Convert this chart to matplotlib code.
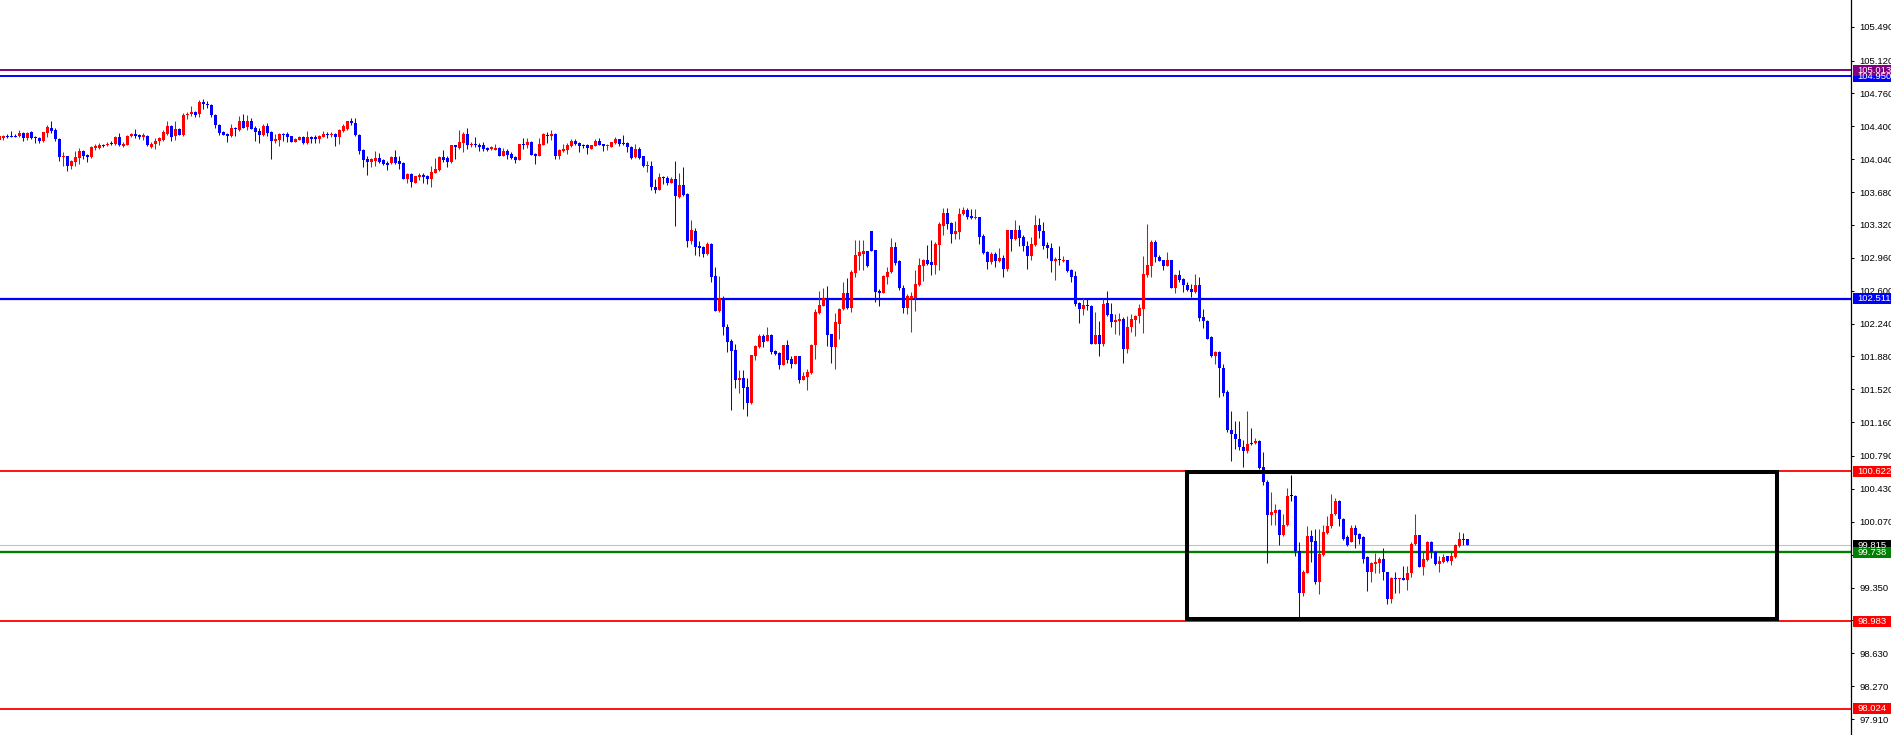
import matplotlib
matplotlib.use("Agg")
import matplotlib.pyplot as plt
from matplotlib.patches import Rectangle
from matplotlib.transforms import blended_transform_factory
import numpy as np

plt.rcParams['font.family'] = ['Liberation Sans', 'DejaVu Sans']

# OHLC candles, oldest first
opens = [
    104.25, 104.27, 104.29, 104.29, 104.29, 104.29, 104.33, 104.27, 104.34, 104.28,
    104.27, 104.24, 104.33, 104.38, 104.36, 104.26, 104.06, 104.07, 103.97, 104.01,
    104.05, 104.13, 104.09, 104.06, 104.16, 104.16, 104.20, 104.19, 104.22, 104.21,
    104.28, 104.18, 104.20, 104.29, 104.32, 104.30, 104.28, 104.29, 104.17, 104.21,
    104.24, 104.25, 104.32, 104.40, 104.29, 104.37, 104.30, 104.52, 104.53, 104.56,
    104.53, 104.67, 104.64, 104.63, 104.52, 104.41, 104.34, 104.32, 104.29, 104.38,
    104.36, 104.46,
    104.39, 104.46, 104.38, 104.35, 104.31, 104.40, 104.34, 104.24, 104.25, 104.32,
    104.32, 104.29, 104.23, 104.25, 104.28, 104.22, 104.28, 104.28, 104.26, 104.28,
    104.32, 104.30, 104.32, 104.28, 104.35, 104.37, 104.46, 104.44, 104.31, 104.14,
    104.04, 104.01, 104.02, 104.05, 104.03, 104.00, 104.00, 104.06, 104.02, 104.00,
    103.82, 103.88, 103.78, 103.84, 103.87, 103.86, 103.82, 103.89, 103.92, 104.06,
    104.05, 104.01, 104.19, 104.16, 104.22, 104.32, 104.19, 104.21, 104.20, 104.19,
    104.16,
    104.15, 104.14, 104.16, 104.07, 104.13, 104.10, 104.06, 104.03, 104.21, 104.20,
    104.23, 104.10, 104.07, 104.20, 104.30, 104.29, 104.32, 104.07, 104.13, 104.14,
    104.18, 104.24, 104.22, 104.20, 104.20, 104.15, 104.18, 104.24, 104.21, 104.18,
    104.17, 104.22, 104.26, 104.22, 104.22, 104.17, 104.06, 104.15, 104.07, 103.96,
    103.97, 103.74, 103.70, 103.85, 103.83, 103.78, 103.82, 103.63, 103.76, 103.66,
    103.14, 103.25, 103.09, 103.08, 103.00, 103.11, 102.76, 102.38, 102.52, 102.20,
    102.05,
    101.95, 101.62, 101.64, 101.55, 101.37, 101.89, 101.98, 102.10, 102.05, 102.11,
    101.94, 101.92, 101.79, 102.00, 101.85, 101.80, 101.88, 101.62, 101.66, 101.70,
    102.00, 102.36, 102.43, 102.52, 102.13, 101.98, 102.24, 102.40, 102.58, 102.41,
    102.79, 102.98, 103.00, 103.03, 103.25, 103.05, 102.60, 102.58, 102.75, 102.80,
    103.08, 102.93, 102.63, 102.41, 102.51, 102.52, 102.66, 102.87, 102.94, 102.91,
    102.88, 103.10, 103.31, 103.45, 103.34, 103.22, 103.24, 103.44, 103.48, 103.42,
    103.40, 103.41,
    103.20, 103.02, 102.91, 103.00, 102.92, 102.96, 102.84, 103.26, 103.17, 103.26,
    103.19, 103.09, 102.98, 103.10, 103.32, 103.25, 103.10, 103.07, 102.93, 102.95,
    102.92, 102.94, 102.83, 102.76, 102.47, 102.40, 102.44, 102.43, 102.02, 102.12,
    102.02, 102.46, 102.35, 102.26, 102.27, 102.29, 101.96, 102.20, 102.28, 102.32,
    102.40, 102.77, 102.87, 103.13, 102.97, 102.94, 102.87, 102.94, 102.63, 102.77,
    102.73, 102.66, 102.62, 102.59, 102.66, 102.31, 102.27, 102.09, 101.88, 101.93,
    101.75,
    101.49, 101.07, 101.03, 100.98, 100.89, 100.85, 100.93, 100.93, 100.95, 100.67,
    100.51, 100.14, 100.17, 100.20, 99.92, 100.03, 100.35, 100.35, 99.75, 99.29,
    99.51, 99.91, 99.86, 99.41, 99.71, 99.95, 100.02, 100.16, 100.30, 100.10,
    99.90, 99.85, 100.00, 99.94, 99.90, 99.68, 99.52, 99.61, 99.62, 99.66,
    99.52, 99.22, 99.45, 99.44, 99.45, 99.43, 99.51, 99.83, 99.92, 99.58,
    99.65, 99.85, 99.74, 99.61, 99.63, 99.69, 99.64, 99.68, 99.80, 99.88,
    99.88,
]
highs = [
    104.30, 104.31, 104.32, 104.35, 104.32, 104.36, 104.34, 104.34, 104.35, 104.29,
    104.28, 104.34, 104.41, 104.46, 104.38, 104.27, 104.12, 104.08, 104.03, 104.13,
    104.16, 104.14, 104.10, 104.18, 104.21, 104.22, 104.21, 104.23, 104.24, 104.29,
    104.33, 104.23, 104.30, 104.33, 104.37, 104.32, 104.33, 104.30, 104.23, 104.27,
    104.28, 104.36, 104.46, 104.41, 104.46, 104.38, 104.55, 104.56, 104.62, 104.57,
    104.69, 104.70, 104.68, 104.64, 104.53, 104.42, 104.35, 104.33, 104.42, 104.39,
    104.51, 104.53,
    104.52, 104.49, 104.40, 104.38, 104.42, 104.44, 104.35, 104.32, 104.33, 104.33,
    104.34, 104.29, 104.27, 104.29, 104.29, 104.35, 104.29, 104.31, 104.30, 104.35,
    104.34, 104.34, 104.33, 104.37, 104.43, 104.46, 104.49, 104.49, 104.32, 104.15,
    104.08, 104.05, 104.13, 104.11, 104.04, 104.02, 104.08, 104.14, 104.07, 104.01,
    103.89, 103.89, 103.86, 103.89, 103.89, 103.87, 103.96, 104.05, 104.07, 104.14,
    104.07, 104.20, 104.19, 104.36, 104.34, 104.38, 104.23, 104.28, 104.22, 104.23,
    104.17,
    104.18, 104.21, 104.17, 104.16, 104.15, 104.12, 104.07, 104.21, 104.27, 104.27,
    104.24, 104.11, 104.27, 104.33, 104.34, 104.36, 104.33, 104.15, 104.21, 104.22,
    104.26, 104.26, 104.23, 104.21, 104.21, 104.20, 104.26, 104.27, 104.21, 104.21,
    104.23, 104.28, 104.26, 104.30, 104.23, 104.18, 104.21, 104.17, 104.08, 104.02,
    104.02, 103.82, 103.89, 103.86, 103.86, 103.85, 104.02, 103.89, 103.95, 103.67,
    103.37, 103.29, 103.14, 103.09, 103.13, 103.12, 102.86, 102.76, 102.54, 102.24,
    102.07,
    102.02, 101.73, 101.73, 101.64, 101.90, 102.00, 102.13, 102.13, 102.20, 102.13,
    101.95, 101.93, 102.01, 102.06, 101.88, 101.89, 101.89, 101.71, 101.74, 102.02,
    102.40, 102.60, 102.63, 102.65, 102.13, 102.36, 102.41, 102.69, 102.74, 102.83,
    103.16, 103.16, 103.16, 103.03, 103.25, 103.05, 102.62, 102.77, 102.86, 103.18,
    103.13, 102.94, 102.66, 102.56, 102.59, 102.83, 102.96, 102.95, 103.10, 103.16,
    103.13, 103.35, 103.50, 103.50, 103.35, 103.36, 103.50, 103.52, 103.50, 103.49,
    103.49, 103.41,
    103.22, 103.03, 103.02, 103.02, 103.07, 102.99, 103.26, 103.27, 103.37, 103.32,
    103.21, 103.14, 103.19, 103.43, 103.40, 103.35, 103.13, 103.12, 102.97, 103.09,
    102.98, 102.94, 102.84, 102.82, 102.48, 102.52, 102.52, 102.44, 102.37, 102.27,
    102.51, 102.60, 102.47, 102.35, 102.36, 102.31, 102.32, 102.34, 102.33, 102.45,
    102.98, 103.33, 103.15, 103.16, 102.99, 102.94, 103.02, 102.94, 102.78, 102.83,
    102.74, 102.69, 102.67, 102.78, 102.75, 102.40, 102.28, 102.10, 101.94, 101.94,
    101.80,
    101.51, 101.28, 101.17, 101.17, 100.97, 101.28, 101.10, 100.99, 100.97, 100.83,
    100.53, 100.40, 100.26, 100.21, 100.16, 100.44, 100.58, 100.36, 99.85, 99.54,
    100.02, 99.98, 99.99, 99.99, 100.03, 100.13, 100.37, 100.33, 100.31, 100.11,
    99.92, 100.03, 100.03, 99.95, 99.91, 99.69, 99.63, 99.73, 99.68, 99.78,
    99.52, 99.47, 99.52, 99.45, 99.59, 99.59, 99.85, 100.16, 99.93, 99.74,
    99.86, 99.86, 99.75, 99.70, 99.72, 99.70, 99.74, 99.83, 99.96, 99.95,
    99.88,
]
lows = [
    104.24, 104.25, 104.27, 104.28, 104.28, 104.28, 104.24, 104.25, 104.26, 104.22,
    104.22, 104.23, 104.28, 104.33, 104.24, 104.02, 103.97, 103.91, 103.93, 103.96,
    103.99, 104.04, 104.01, 104.05, 104.14, 104.15, 104.17, 104.18, 104.20, 104.20,
    104.18, 104.17, 104.19, 104.28, 104.27, 104.26, 104.25, 104.18, 104.16, 104.15,
    104.20, 104.24, 104.30, 104.24, 104.25, 104.30, 104.29, 104.48, 104.51, 104.50,
    104.50, 104.59, 104.60, 104.50, 104.38, 104.31, 104.30, 104.23, 104.28, 104.29,
    104.35, 104.38,
    104.36, 104.37, 104.24, 104.22, 104.29, 104.29, 104.04, 104.22, 104.18, 104.24,
    104.23, 104.23, 104.23, 104.25, 104.21, 104.21, 104.22, 104.22, 104.22, 104.28,
    104.27, 104.28, 104.18, 104.21, 104.34, 104.36, 104.41, 104.29, 104.10, 103.95,
    103.87, 103.95, 103.97, 104.00, 103.98, 103.92, 103.99, 103.99, 103.93, 103.82,
    103.78, 103.74, 103.78, 103.81, 103.78, 103.77, 103.73, 103.89, 103.91, 104.01,
    103.95, 104.00, 104.04, 104.15, 104.12, 104.15, 104.17, 104.17, 104.13, 104.13,
    104.13,
    104.14, 104.14, 104.07, 104.07, 104.04, 104.04, 104.00, 104.03, 104.15, 104.16,
    104.09, 103.99, 104.07, 104.20, 104.22, 104.25, 104.04, 104.04, 104.12, 104.10,
    104.17, 104.20, 104.12, 104.16, 104.10, 104.15, 104.18, 104.20, 104.13, 104.14,
    104.17, 104.21, 104.18, 104.20, 104.12, 104.04, 104.05, 104.04, 103.95, 103.90,
    103.70, 103.67, 103.70, 103.77, 103.76, 103.78, 103.31, 103.61, 103.64, 103.08,
    103.11, 102.99, 102.98, 102.97, 102.99, 102.70, 102.38, 102.37, 102.11, 101.93,
    101.29,
    101.54, 101.48, 101.30, 101.23, 101.36, 101.84, 101.97, 101.98, 102.05, 101.91,
    101.90, 101.74, 101.79, 101.81, 101.75, 101.80, 101.59, 101.62, 101.51, 101.69,
    101.85, 102.35, 102.43, 101.99, 101.81, 101.74, 102.07, 102.39, 102.40, 102.37,
    102.75, 102.83, 102.83, 102.86, 103.03, 102.48, 102.43, 102.57, 102.67, 102.79,
    102.88, 102.61, 102.36, 102.35, 102.15, 102.38, 102.65, 102.71, 102.88, 102.77,
    102.78, 102.83, 103.21, 103.28, 103.12, 103.17, 103.17, 103.43, 103.39, 103.38,
    103.38, 103.11,
    103.00, 102.84, 102.89, 102.86, 102.91, 102.75, 102.82, 103.04, 103.16, 103.09,
    103.04, 102.84, 102.94, 103.09, 103.18, 103.06, 102.96, 102.81, 102.72, 102.88,
    102.91, 102.80, 102.69, 102.43, 102.25, 102.33, 102.39, 102.02, 102.02, 101.88,
    101.99, 102.32, 102.20, 102.13, 102.11, 101.81, 101.92, 102.15, 102.10, 102.25,
    102.14, 102.75, 102.75, 102.91, 102.92, 102.83, 102.87, 102.63, 102.58, 102.70,
    102.59, 102.60, 102.53, 102.58, 102.27, 102.19, 102.07, 101.87, 101.80, 101.44,
    101.45,
    101.05, 100.73, 100.87, 100.86, 100.67, 100.82, 100.91, 100.92, 100.65, 100.47,
    99.62, 100.03, 100.03, 99.82, 99.91, 100.02, 100.30, 99.70, 99.02, 99.26,
    99.51, 99.63, 99.39, 99.28, 99.69, 99.94, 100.00, 100.14, 100.02, 99.87,
    99.80, 99.85, 99.78, 99.83, 99.62, 99.31, 99.41, 99.51, 99.51, 99.43,
    99.17, 99.18, 99.29, 99.29, 99.43, 99.32, 99.46, 99.82, 99.58, 99.49,
    99.64, 99.67, 99.60, 99.52, 99.62, 99.63, 99.60, 99.67, 99.79, 99.81,
    99.81,
]
closes = [
    104.29, 104.29, 104.28, 104.28, 104.28, 104.33, 104.27, 104.33, 104.27, 104.27,
    104.24, 104.34, 104.39, 104.35, 104.26, 104.06, 104.07, 103.97, 104.02, 104.06,
    104.13, 104.08, 104.06, 104.17, 104.18, 104.20, 104.18, 104.21, 104.21, 104.28,
    104.19, 104.21, 104.29, 104.32, 104.29, 104.28, 104.30, 104.20, 104.21, 104.24,
    104.27, 104.34, 104.40, 104.28, 104.37, 104.30, 104.52, 104.53, 104.56, 104.52,
    104.67, 104.64, 104.63, 104.52, 104.41, 104.33, 104.30, 104.29, 104.38, 104.37,
    104.46, 104.38,
    104.46, 104.37, 104.34, 104.31, 104.40, 104.33, 104.24, 104.26, 104.32, 104.31,
    104.28, 104.23, 104.26, 104.28, 104.22, 104.28, 104.26, 104.26, 104.29, 104.32,
    104.30, 104.32, 104.28, 104.36, 104.40, 104.46, 104.44, 104.30, 104.13, 104.03,
    104.01, 104.04, 104.05, 104.01, 103.99, 103.98, 104.06, 104.00, 103.99, 103.82,
    103.88, 103.79, 103.86, 103.87, 103.84, 103.82, 103.90, 103.93, 104.06, 104.03,
    104.01, 104.19, 104.17, 104.23, 104.32, 104.19, 104.21, 104.19, 104.17, 104.15,
    104.14,
    104.17, 104.16, 104.07, 104.13, 104.09, 104.05, 104.03, 104.21, 104.20, 104.23,
    104.09, 104.07, 104.21, 104.32, 104.29, 104.32, 104.07, 104.14, 104.15, 104.20,
    104.24, 104.21, 104.18, 104.18, 104.16, 104.20, 104.24, 104.20, 104.18, 104.20,
    104.23, 104.26, 104.21, 104.21, 104.17, 104.05, 104.15, 104.05, 103.96, 103.97,
    103.73, 103.70, 103.84, 103.83, 103.78, 103.82, 103.64, 103.76, 103.65, 103.14,
    103.26, 103.08, 103.07, 103.00, 103.11, 102.75, 102.38, 102.52, 102.20, 102.04,
    101.94,
    101.62, 101.64, 101.54, 101.37, 101.90, 101.99, 102.10, 102.04, 102.11, 101.93,
    101.91, 101.79, 102.00, 101.84, 101.80, 101.88, 101.62, 101.67, 101.71, 102.01,
    102.37, 102.44, 102.52, 102.12, 101.98, 102.26, 102.40, 102.58, 102.41, 102.81,
    102.99, 103.02, 103.03, 102.87, 103.04, 102.59, 102.58, 102.76, 102.81, 103.08,
    102.90, 102.63, 102.41, 102.54, 102.54, 102.67, 102.88, 102.94, 102.89, 102.88,
    103.11, 103.33, 103.45, 103.33, 103.22, 103.25, 103.44, 103.48, 103.41, 103.40,
    103.41, 103.19,
    103.01, 102.91, 103.00, 102.92, 102.96, 102.84, 103.26, 103.17, 103.26, 103.18,
    103.09, 102.98, 103.11, 103.32, 103.25, 103.09, 103.07, 102.93, 102.95, 102.94,
    102.94, 102.82, 102.75, 102.45, 102.40, 102.44, 102.43, 102.02, 102.12, 102.02,
    102.45, 102.33, 102.26, 102.28, 102.29, 101.96, 102.20, 102.29, 102.32, 102.41,
    102.78, 102.88, 103.13, 102.97, 102.93, 102.87, 102.94, 102.63, 102.77, 102.72,
    102.66, 102.61, 102.59, 102.66, 102.30, 102.27, 102.07, 101.88, 101.93, 101.75,
    101.48,
    101.07, 101.03, 100.98, 100.89, 100.85, 100.92, 100.92, 100.95, 100.66, 100.50,
    100.14, 100.18, 100.20, 99.92, 100.03, 100.35, 100.35, 99.75, 99.29, 99.52,
    99.91, 99.85, 99.41, 99.72, 99.96, 100.02, 100.16, 100.30, 100.10, 99.88,
    99.82, 100.00, 99.92, 99.88, 99.66, 99.52, 99.62, 99.63, 99.66, 99.52,
    99.22, 99.45, 99.44, 99.45, 99.43, 99.51, 99.83, 99.92, 99.58, 99.66,
    99.85, 99.74, 99.61, 99.64, 99.68, 99.64, 99.69, 99.81, 99.88, 99.87,
    99.81,
]

# horizontal levels, in drawing order (later ones cover earlier labels)
level_prices = [104.950, 105.013, 102.511, 100.622, 99.815, 99.738, 98.983, 98.024]
level_colors = ['#0000ff', '#800080', '#0000ff', '#ff0000', '#c0c0c0', '#008000', '#ff0000', '#ff0000']
label_colors = ['#0000ff', '#800080', '#0000ff', '#ff0000', '#000000', '#008000', '#ff0000', '#ff0000']
level_widths = [1.4, 1.4, 1.6, 1.3, 0.75, 1.7, 1.3, 1.3]

tick_prices = [105.49, 105.12, 104.76, 104.40, 104.04, 103.68, 103.32, 102.96, 102.60,
               102.24, 101.88, 101.52, 101.16, 100.79, 100.43, 100.07, 99.71, 99.35,
               98.99, 98.63, 98.27, 97.91]

box_x = [296.9, 444.3]
box_y = [99.005, 100.61]

W, H = 1891, 735
fig = plt.figure(figsize=(W / 100, H / 100), dpi=100)
ax = fig.add_axes([0, 0, 1851 / W, 1])

o = np.array(opens)
h = np.array(highs)
l = np.array(lows)
c = np.array(closes)
assert len(o) == len(h) == len(l) == len(c)
x = np.arange(len(o))

cols = np.where(c > o, '#ff0000', np.where(c < o, '#0000ff', '#000000'))
ax.vlines(x, l, h, colors=cols, linewidth=0.75, zorder=3)
body = np.maximum(np.abs(c - o), 0.011)
ax.bar(x, body, bottom=np.minimum(o, c), width=0.75, color=cols, linewidth=0, zorder=3)

for p, lc, lw in zip(level_prices, level_colors, level_widths):
    ax.axhline(p, color=lc, linewidth=lw, zorder=2)

ax.add_patch(Rectangle((box_x[0], box_y[0]), box_x[1] - box_x[0], box_y[1] - box_y[0],
                       fill=False, edgecolor='black', linewidth=2.9, joinstyle='miter', zorder=5))

ax.set_xlim(0.175, 462.9)
ax.set_ylim(97.735, 105.783)

ax.yaxis.tick_right()
ax.set_yticks(tick_prices)
ax.set_yticklabels([f'{t:.3f}' for t in tick_prices])
ax.tick_params(axis='y', length=2.5, width=0.75, pad=3.5, labelsize=6.8, colors='black')
ax.set_xticks([])
for s in ['top', 'left', 'bottom']:
    ax.spines[s].set_visible(False)
ax.spines['right'].set_linewidth(0.9)

# price label boxes on the axis
tr = blended_transform_factory(fig.transFigure, ax.transData)
box_h = 11 / 91.33
for p, bc in zip(level_prices, label_colors):
    ax.add_patch(Rectangle((1853 / W, p - box_h / 2), 38 / W, box_h, transform=tr,
                           facecolor=bc, edgecolor='none', clip_on=False, zorder=10))
    ax.text(1857 / W, p, f'{p:.3f}', transform=tr, color='white', fontsize=6.8,
            va='center', ha='left', clip_on=False, zorder=11)

fig.savefig('out.png', dpi=100)
